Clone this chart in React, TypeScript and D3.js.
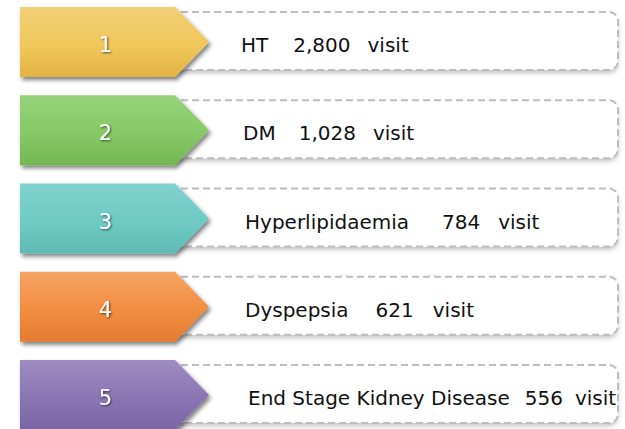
import React from "react";
import * as d3 from "d3";

const ranks = [1, 2, 3, 4, 5];
const diseases = ["HT", "DM", "Hyperlipidaemia", "Dyspepsia", "End Stage Kidney Disease"];
const visits = [2800, 1028, 784, 621, 556];
const unitLabel = "visit";
const topColors = ["#f0cf78", "#96d27c", "#80d2cd", "#f5a465", "#9f8cc1"];
const midColors = ["#f1c75a", "#86c865", "#6fcac4", "#f28d40", "#8a74b3"];
const bottomColors = ["#e2b345", "#72b752", "#5fbab4", "#e47c30", "#7c65a6"];
const labelGaps = [25, 23, 33, 27, 15];
const unitGaps = [17, 17, 18, 19, 12];
const textStarts = [241, 243, 245, 245, 248];

const W = 625;
const H = 429;

export default function App() {
  const y = d3.scaleLinear().domain([0, 4]).range([7, 360]);
  const fmt = d3.format(",");
  const arrowLeft = 20;
  const shoulder = 175;
  const tip = 209;
  const arrowH = 70;
  const boxLeft = 150;
  const boxRight = 618;
  const boxTopOff = 5;
  const boxH = 58;
  const r = 9;

  const arrowPath = (t: number) => {
    const p = d3.path();
    p.moveTo(arrowLeft, t);
    p.lineTo(shoulder, t);
    p.lineTo(tip, t + arrowH / 2);
    p.lineTo(shoulder, t + arrowH);
    p.lineTo(arrowLeft, t + arrowH);
    p.closePath();
    return p.toString();
  };

  return (
    <svg
      width={W}
      height={H}
      style={{ position: "absolute", left: 0, top: 0, background: "#fff" }}
      fontFamily="'DejaVu Sans', sans-serif"
    >
      <defs>
        <filter id="ashadow" x="-10%" y="-20%" width="130%" height="160%">
          <feDropShadow dx="2" dy="3" stdDeviation="2" floodColor="#000" floodOpacity="0.5" />
        </filter>
        <filter id="bshadow" x="-5%" y="-20%" width="110%" height="160%">
          <feDropShadow dx="0" dy="3" stdDeviation="2.5" floodColor="#000" floodOpacity="0.25" />
        </filter>
        <filter id="tshadow" x="-50%" y="-50%" width="200%" height="200%">
          <feDropShadow dx="1" dy="1" stdDeviation="0.8" floodColor="#000" floodOpacity="0.6" />
        </filter>
        {ranks.map((_, i) => (
          <linearGradient key={i} id={`g${i}`} x1="0" y1="0" x2="0" y2="1">
            <stop offset="0%" stopColor={topColors[i]} />
            <stop offset="55%" stopColor={midColors[i]} />
            <stop offset="100%" stopColor={bottomColors[i]} />
          </linearGradient>
        ))}
      </defs>
      {ranks.map((rank, i) => {
        const t = y(i);
        return (
          <g key={rank}>
            <rect
              x={boxLeft}
              y={t + boxTopOff}
              width={boxRight - boxLeft}
              height={boxH}
              rx={r}
              ry={r}
              fill="#fff"
              filter="url(#bshadow)"
            />
            <rect
              x={boxLeft}
              y={t + boxTopOff}
              width={boxRight - boxLeft}
              height={boxH}
              rx={r}
              ry={r}
              fill="#fff"
              stroke="#bdbdbd"
              strokeWidth={2}
              strokeDasharray="7 4"
            />
            <path d={arrowPath(t)} fill={`url(#g${i})`} filter="url(#ashadow)" />
            <text
              x={(arrowLeft + shoulder) / 2 + 8}
              y={t + 45}
              textAnchor="middle"
              fill="#fff"
              fontSize={21}
              filter="url(#tshadow)"
            >
              {rank}
            </text>
            <text x={textStarts[i]} y={t + 45} fontSize={20} fill="#111">
              <tspan>{diseases[i]}</tspan>
              <tspan dx={labelGaps[i]}>{fmt(visits[i])}</tspan>
              <tspan dx={unitGaps[i]}>{unitLabel}</tspan>
            </text>
          </g>
        );
      })}
    </svg>
  );
}
